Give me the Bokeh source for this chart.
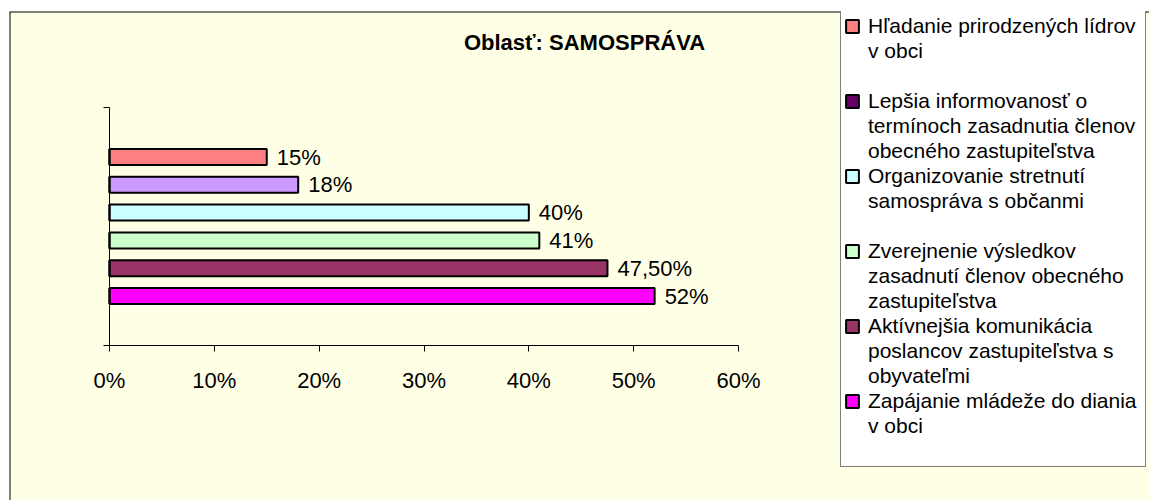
from bokeh.plotting import figure
from bokeh.models import (ColumnDataSource, LinearAxis, FixedTicker, NumeralTickFormatter,
                          Legend, LegendItem, Label, Span, GlobalInlineStyleSheet)
from bokeh.core.properties import value
from bokeh.embed import file_html
from bokeh.resources import INLINE

# ---------------- data ----------------
categories = [
    "Hľadanie prirodzených lídrov v obci",
    "Lepšia informovanosť o termínoch zasadnutia členov obecného zastupiteľstva",
    "Organizovanie stretnutí samospráva s občanmi",
    "Zverejnenie výsledkov zasadnutí členov obecného zastupiteľstva",
    "Aktívnejšia komunikácia poslancov zastupiteľstva s obyvateľmi",
    "Zapájanie mládeže do diania v obci",
]
legend_lines = [
    ["Hľadanie prirodzených lídrov", "v obci", ""],
    ["Lepšia informovanosť o", "termínoch zasadnutia členov", "obecného zastupiteľstva"],
    ["Organizovanie stretnutí", "samospráva s občanmi", ""],
    ["Zverejnenie výsledkov", "zasadnutí členov obecného", "zastupiteľstva"],
    ["Aktívnejšia komunikácia", "poslancov zastupiteľstva s", "obyvateľmi"],
    ["Zapájanie mládeže do diania", "v obci", ""],
]
values = [0.15, 0.18, 0.40, 0.41, 0.475, 0.52]
value_labels = ["15%", "18%", "40%", "41%", "47,50%", "52%"]
bar_colors = ["#FF8080", "#CC99FF", "#CCFFFF", "#CCFFCC", "#993366", "#FF00FF"]
legend_colors = ["#FF8080", "#660066", "#CCFFFF", "#CCFFCC", "#993366", "#FF00FF"]
x_ticks = [0.0, 0.1, 0.2, 0.3, 0.4, 0.5, 0.6]
title_text = "Oblasť: SAMOSPRÁVA"

# ---------------- layout constants (page pixels) ----------------
W, H = 1149, 500
FRAME_L, FRAME_T = 9, 11
AX_X0, AX_X1 = 109, 738          # pixel of 0% and 60%
AX_Y_BOT, AX_Y_TOP = 345, 107     # category axis extent
SLOT = 27.8                       # pixels per bar slot
FONT = "Liberation Sans"

k = (AX_X1 - AX_X0) / (x_ticks[-1] - x_ticks[0])
x_start = -(AX_X0 - FRAME_L) / k
x_end = (W - AX_X0) / k
y_start = -(H - AX_Y_BOT) / SLOT
y_end = (AX_Y_BOT - FRAME_T) / SLOT
axis_slots = (AX_Y_BOT - AX_Y_TOP) / SLOT

n = len(values)
gap = (axis_slots - n) / 2.0
ypos = [gap + (n - 1 - i) + 0.5 for i in range(n)]
bar_h = 16 / SLOT

src = ColumnDataSource(dict(
    y=ypos, v=values, zero=[0.0] * n, color=bar_colors, lcolor=legend_colors,
    label=value_labels, lx=[v + 10 / k for v in values], cat=categories,
))

p = figure(width=W, height=H, output_backend="svg", toolbar_location=None,
           x_range=(x_start, x_end), y_range=(y_start, y_end),
           x_axis_location=None, y_axis_location=None,
           min_border_left=FRAME_L, min_border_top=FRAME_T,
           min_border_right=0, min_border_bottom=0,
           background_fill_color="#FFFFE6", border_fill_color="white",
           outline_line_color=None,
           stylesheets=[GlobalInlineStyleSheet(css="html, body { overflow: hidden; }")])
p.grid.visible = False

# bars and value labels
p.hbar(y="y", left=0, right="v", height=bar_h, fill_color="color",
       line_color="black", line_width=2, source=src)
p.text(x="lx", y="y", text="label", text_font=value(FONT), text_font_size=value("22px"),
       text_baseline="middle", text_align="left", text_color="black", source=src)

# legend swatch renderer (zero-width, hidden under the bars' left edges)
swatch = p.hbar(y="y", left="zero", right="zero", height=bar_h, fill_color="lcolor",
                line_color="black", line_width=2, source=src)

# axes
xaxis = LinearAxis(fixed_location=0, bounds=(x_ticks[0], x_ticks[-1]),
                   ticker=FixedTicker(ticks=x_ticks, minor_ticks=[]),
                   formatter=NumeralTickFormatter(format="0%"))
xaxis.axis_line_color = "black"
xaxis.major_tick_line_color = "black"
xaxis.major_tick_in = 0
xaxis.major_tick_out = 6
xaxis.minor_tick_line_color = None
xaxis.major_label_standoff = 16
xaxis.major_label_text_font = FONT
xaxis.major_label_text_font_size = "22px"
xaxis.major_label_text_color = "black"
p.add_layout(xaxis, "below")

yaxis = LinearAxis(fixed_location=0, bounds=(0, axis_slots),
                   ticker=FixedTicker(ticks=[0, axis_slots], minor_ticks=[]))
yaxis.axis_line_color = "black"
yaxis.major_tick_line_color = "black"
yaxis.major_tick_in = 0
yaxis.major_tick_out = 6
yaxis.minor_tick_line_color = None
yaxis.major_label_text_color = None
p.add_layout(yaxis, "left")

# title
p.add_layout(Label(x=(584 - AX_X0) / k, y=(AX_Y_BOT - 42) / SLOT, text=title_text,
                   text_font=FONT, text_font_size="22px", text_font_style="bold",
                   text_align="center", text_baseline="middle", text_color="black"))

# outer chart border (left and top edges visible)
p.add_layout(Span(location=x_start, dimension="height", line_color="black", line_width=2))
p.add_layout(Span(location=y_end, dimension="width", line_color="black", line_width=2))

# legend
blank = p.hbar(y=[], right=[], height=1, fill_alpha=0, line_alpha=0)
items = []
for i, lines in enumerate(legend_lines):
    for j, line in enumerate(lines):
        if j == 0:
            items.append(LegendItem(label=line, renderers=[swatch], index=i))
        else:
            items.append(LegendItem(label=line if line else " ", renderers=[blank]))

legend = Legend(items=items, location=(840 - FRAME_L, H - 467), margin=0, padding=3, spacing=0,
                label_height=25, glyph_height=16, glyph_width=16, label_standoff=8,
                label_width=274, border_line_color="black", border_line_width=1,
                background_fill_color="white", background_fill_alpha=1.0,
                label_text_font=FONT, label_text_font_size="21px", label_text_color="black")
p.add_layout(legend)

open("out.html", "w").write(file_html(p, INLINE))
